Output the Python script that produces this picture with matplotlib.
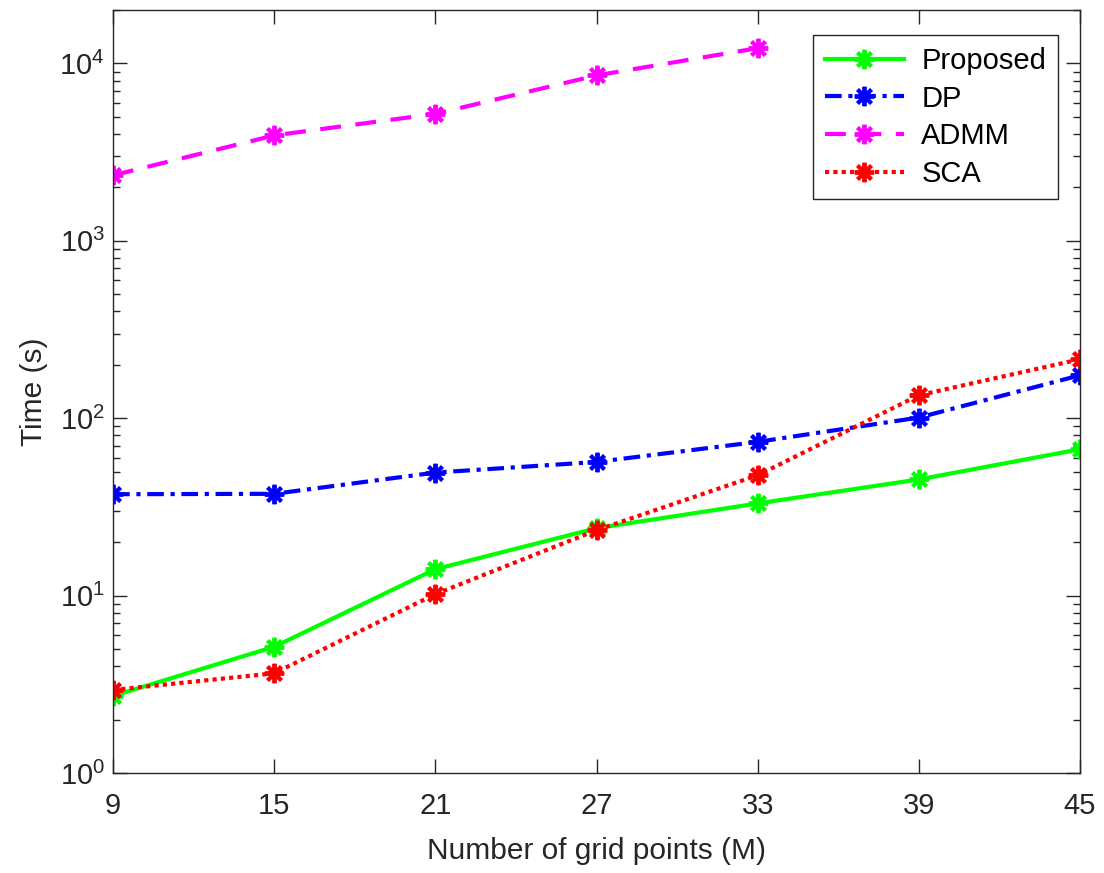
import matplotlib
matplotlib.use("Agg")
import matplotlib.pyplot as plt
from matplotlib.ticker import LogLocator, NullFormatter

plt.rcParams['font.family'] = ['Liberation Sans', 'DejaVu Sans']
plt.rcParams['mathtext.fontset'] = 'custom'
plt.rcParams['mathtext.rm'] = 'Liberation Sans'
plt.rcParams['mathtext.it'] = 'Liberation Sans:italic'
plt.rcParams['mathtext.bf'] = 'Liberation Sans:bold'

grid_points = [9, 15, 21, 27, 33, 39, 45]
proposed = [2.72, 5.15, 14.1, 24.0, 33.1, 45.2, 66.9]
dp = [37.3, 37.5, 49.4, 56.7, 73.6, 100.9, 174.7]
admm_x = [9, 15, 21, 27, 33]
admm = [2340, 3930, 5200, 8560, 12200]
sca = [2.94, 3.65, 10.2, 23.4, 47.7, 134.8, 215]

fig = plt.figure(figsize=(11.04, 8.73), dpi=100)
ax = fig.add_axes([0.1024, 0.1145, 0.8759, 0.874])

mk = dict(marker=(8, 2, 0), markersize=14, markeredgewidth=2.8)
LW = 3.0
ax.plot(grid_points, proposed, '-', color='#00ff00', lw=LW, label='Proposed',
        markeredgecolor='#00ff00', **mk)
ax.plot(grid_points, dp, color='#0000ff', lw=LW, linestyle=(0, (4, 1.6, 1, 1.6)), label='DP',
        markeredgecolor='#0000ff', **mk)
ax.plot(admm_x, admm, color='#ff00ff', lw=LW, linestyle=(0, (5, 3.5)), label='ADMM',
        markeredgecolor='#ff00ff', **mk)
ax.plot(grid_points, sca, color='#ff0000', lw=LW, linestyle=(0, (1, 1)), label='SCA',
        markeredgecolor='#ff0000', **mk)

ax.set_yscale('log')
ax.set_xlim(9, 45)
ax.set_ylim(1, 2e4)
ax.set_xticks(grid_points)
ax.set_xticklabels([str(g) for g in grid_points])
ax.yaxis.set_major_locator(LogLocator(base=10, numticks=10))
ax.yaxis.set_minor_locator(LogLocator(base=10, subs=range(2, 10), numticks=20))
ax.yaxis.set_minor_formatter(NullFormatter())

ax.tick_params(which='both', direction='in', top=True, right=True, labelsize=21,
               width=1.0, color='#262626', labelcolor='#262626')
ax.tick_params(axis='x', which='major', pad=14)
ax.tick_params(axis='y', which='major', pad=6)
ax.tick_params(which='major', length=10)
ax.tick_params(which='minor', length=5)
for s in ax.spines.values():
    s.set_linewidth(1.0)
    s.set_color('#262626')

ax.set_xlabel('Number of grid points (M)', fontsize=21.5, color='#262626', labelpad=12)
ax.set_ylabel('Time (s)', fontsize=21.5, color='#262626', labelpad=8)

leg = ax.legend(loc='upper right', fontsize=21, handlelength=2.7, fancybox=False,
                edgecolor='#262626', framealpha=1, borderpad=0.4, labelspacing=0.33,
                handletextpad=0.6, borderaxespad=0.0,
                bbox_to_anchor=(0.977, 0.967))
leg.get_frame().set_linewidth(1.0)

fig.savefig('out.png', dpi=100)
